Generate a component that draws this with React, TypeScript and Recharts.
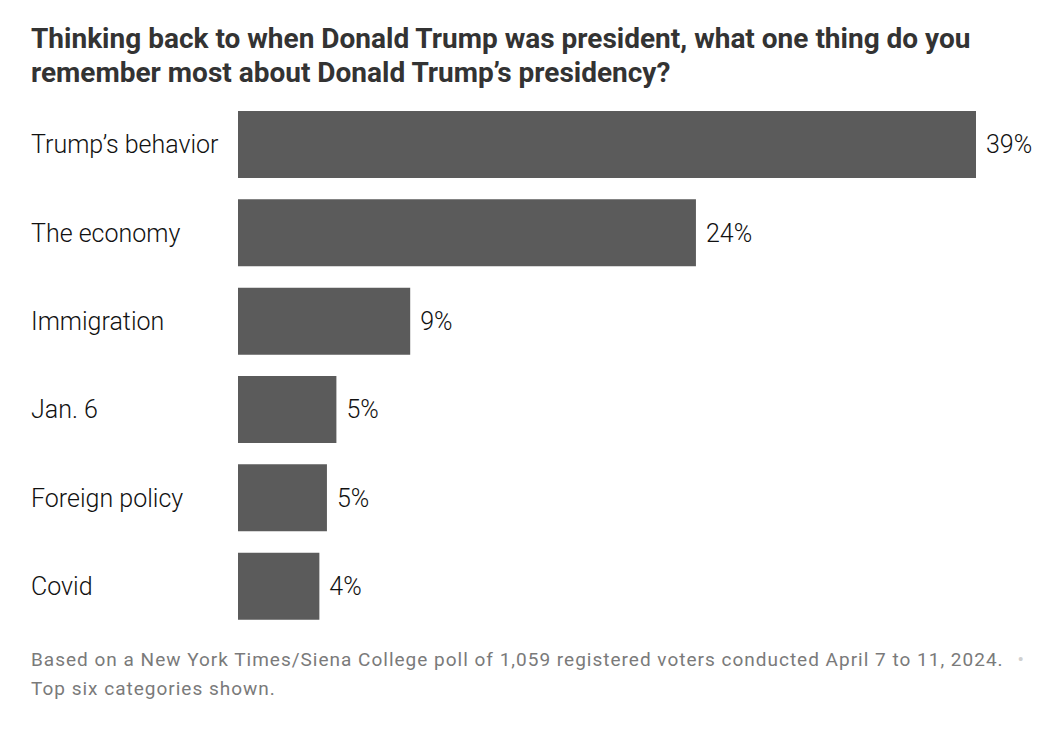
import { BarChart, Bar, XAxis, YAxis, LabelList } from 'recharts';

const categories = ['Trump\u2019s behavior', 'The economy', 'Immigration', 'Jan. 6', 'Foreign policy', 'Covid'];
const shares = [39, 24.2, 9.1, 5.2, 4.7, 4.3];
const shareLabels = ['39%', '24%', '9%', '5%', '5%', '4%'];

const data = categories.map((name, i) => ({ name, value: shares[i], label: shareLabels[i] }));

const CategoryTick = ({ y, payload }: any) => (
  <text x={31} y={y} dy="0.36em" textAnchor="start" fill="#111" fontSize={25} fontWeight={300} fontFamily="Roboto">
    {payload.value}
  </text>
);

const App = () => {
  return (
    <div style={{ position: 'absolute', left: 0, top: 0, width: 1054, height: 732, background: '#fff', fontFamily: 'Roboto' }}>
      <div style={{ position: 'absolute', left: 31, top: 22, width: 1020, fontSize: 28, fontWeight: 700, lineHeight: '34px', color: '#333', whiteSpace: 'nowrap' }}>
        Thinking back to when Donald Trump was president, what one thing do you
        <br />
        remember most about Donald Trump’s presidency?
      </div>
      <div style={{ position: 'absolute', left: 0, top: 0 }}>
        <BarChart width={1054} height={732} data={data} layout="vertical"
          margin={{ top: 100, right: 78, bottom: 102, left: 0 }}>
          <XAxis type="number" domain={[0, 39]} hide />
          <YAxis type="category" dataKey="name" width={238} axisLine={false} tickLine={false} tick={<CategoryTick />} />
          <Bar dataKey="value" fill="#5b5b5b" barSize={67} isAnimationActive={false}>
            <LabelList dataKey="label" position="right" offset={10} fill="#111" fontSize={25} fontWeight={300} fontFamily="Roboto" />
          </Bar>
        </BarChart>
      </div>
      <div style={{ position: 'absolute', left: 31, top: 645, fontSize: 19, letterSpacing: 1, lineHeight: '29px', color: '#7a7a7a', whiteSpace: 'nowrap' }}>
        Based on a New York Times/Siena College poll of 1,059 registered voters conducted April 7 to 11, 2024.
        <span style={{ color: '#d0d0d0', marginLeft: 14 }}>•</span>
        <br />
        Top six categories shown.
      </div>
    </div>
  );
};

export default App;
